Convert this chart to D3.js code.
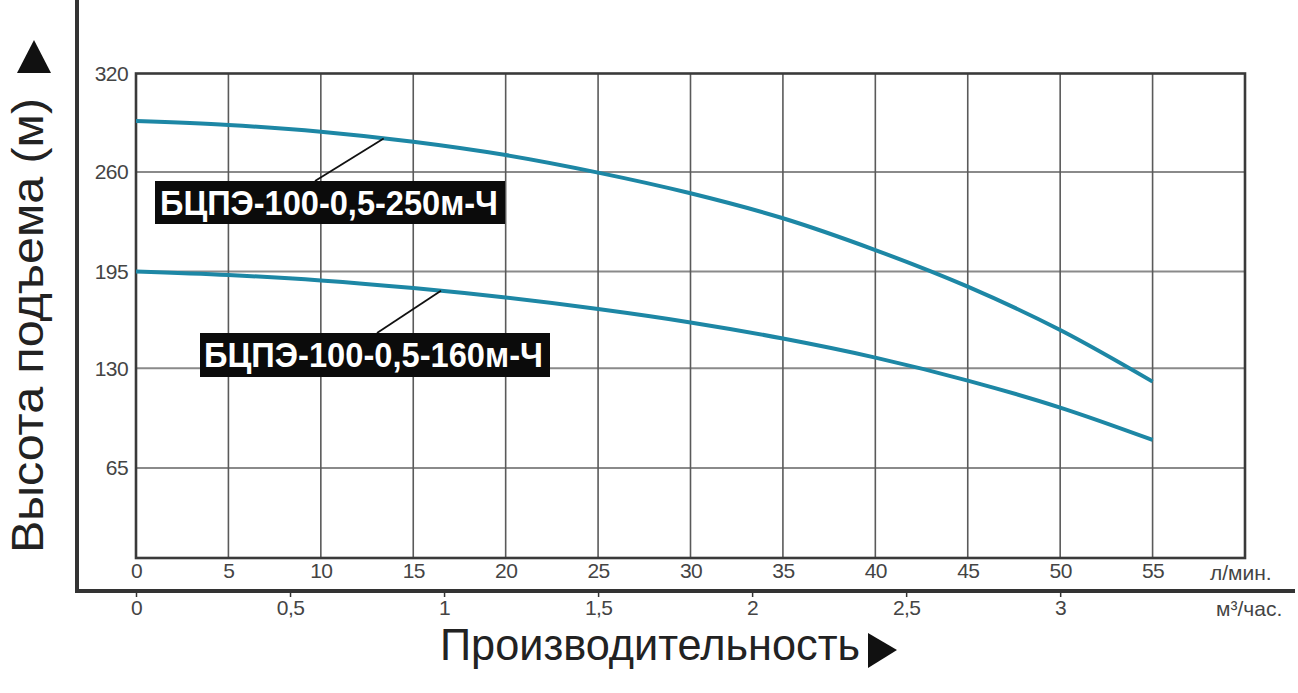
<!DOCTYPE html>
<html>
<head>
<meta charset="utf-8">
<script src="https://cdn.jsdelivr.net/npm/d3@7"></script>
<style>
  body { margin: 0; background: #fff; }
  svg { display: block; font-family: "Liberation Sans", Arial, sans-serif; }
</style>
</head>
<body>
<svg id="chart" width="1298" height="693"></svg>
<script>
// pump curves, head (m) vs flow (l/min)
const flowLpm = [0, 5, 10, 15, 20, 25, 30, 35, 40, 45, 50, 55];
const head250 = [291, 288.6, 284.5, 278.4, 270.3, 259.6, 246.1, 229.8, 209, 184.8, 155.7, 121.3];
const head160 = [195, 192.6, 189, 183.9, 177.5, 169.8, 160.8, 150, 137.2, 122, 104.4, 83.3];

const seriesNames = ['БЦПЭ-100-0,5-250м-Ч', 'БЦПЭ-100-0,5-160м-Ч'];
// point on each curve where the leader line touches it [l/min, m]
const leaderPoints = [[13.4, 280.4], [16.5, 182]];

const headTicks = [0, 65, 130, 195, 260, 320];
const flowTicks = [0, 5, 10, 15, 20, 25, 30, 35, 40, 45, 50, 55];
const flowGrid = [5, 10, 15, 20, 25, 30, 35, 40, 45, 50, 55];
const m3Ticks = [0, 0.5, 1, 1.5, 2, 2.5, 3];

const yTitle = 'Высота подъема (м)';
const xTitle = 'Производительность';
const unitLpm = 'л/мин.';
const unitM3 = 'м³/час.';

const svg = d3.select('#chart');
const plotLeft = 136, plotRight = 1245, plotTop = 73.5, plotBottom = 558;
const axisY = 591, axisX = 77;
const lineColor = '#1d87a5';

const x = d3.scaleLinear().domain([0, 60]).range([plotLeft, plotRight]);
// m3/h axis shares the same pixels: 60 l/min = 3.6 m3/h
const xm = d3.scaleLinear().domain([0, 3.6]).range([plotLeft, plotRight]);
// the printed grid is not quite even, so map each grid value to its row
const y = d3.scaleLinear()
  .domain(headTicks)
  .range([plotBottom, 468, 368.3, 271.5, 172, plotTop]);

// grid
const grid = svg.append('g');
grid.selectAll('.hgrid')
  .data(headTicks.slice(1, -1))
  .enter().append('line')
  .attr('x1', plotLeft).attr('x2', plotRight)
  .attr('y1', d => y(d)).attr('y2', d => y(d))
  .attr('stroke', '#8a8a8a')
  .attr('stroke-width', 2);
grid.selectAll('.vgrid')
  .data(flowGrid)
  .enter().append('line')
  .attr('x1', d => x(d)).attr('x2', d => x(d))
  .attr('y1', plotTop).attr('y2', plotBottom)
  .attr('stroke', '#5a5a5a')
  .attr('stroke-width', 1.6);

// plot frame
svg.append('rect')
  .attr('x', plotLeft).attr('y', plotTop)
  .attr('width', plotRight - plotLeft).attr('height', plotBottom - plotTop)
  .attr('fill', 'none')
  .attr('stroke', '#3a3a3a')
  .attr('stroke-width', 2.6);

const styleTicks = sel => sel.selectAll('text')
  .attr('font-size', 21)
  .attr('fill', '#444')
  .attr('font-family', '"Liberation Sans", Arial, sans-serif')
  .attr('letter-spacing', -0.6);

// y tick labels
const yAxis = svg.append('g')
  .attr('transform', `translate(${plotLeft},0)`)
  .call(d3.axisLeft(y).tickValues(headTicks.slice(1)).tickSize(0).tickPadding(8));
yAxis.select('.domain').remove();
styleTicks(yAxis);

// l/min tick labels under the plot
const xAxis = svg.append('g')
  .attr('transform', `translate(0,${plotBottom})`)
  .call(d3.axisBottom(x).tickValues(flowTicks).tickSize(0).tickPadding(5));
xAxis.select('.domain').remove();
styleTicks(xAxis);

// m3/h axis on the outer baseline
const mAxis = svg.append('g')
  .attr('transform', `translate(0,${axisY})`)
  .call(d3.axisBottom(xm).tickValues(m3Ticks).tickSize(6).tickPadding(3)
    .tickFormat(d => String(d).replace('.', ',')));
mAxis.select('.domain').remove();
mAxis.selectAll('line').attr('stroke', '#333').attr('stroke-width', 1.5);
styleTicks(mAxis);

// outer L axis
svg.append('path')
  .attr('d', `M${axisX},0 V${axisY} H1295`)
  .attr('fill', 'none')
  .attr('stroke', '#333')
  .attr('stroke-width', 4);

// units
svg.append('text')
  .attr('x', 1210).attr('y', 580)
  .attr('font-size', 21).attr('fill', '#444')
  .text(unitLpm);
svg.append('text')
  .attr('x', 1216).attr('y', 616)
  .attr('font-size', 21).attr('fill', '#444')
  .text(unitM3);

// curves
const line = d3.line()
  .x(d => x(d[0]))
  .y(d => y(d[1]))
  .curve(d3.curveMonotoneX);

[head250, head160].forEach(series => {
  svg.append('path')
    .datum(flowLpm.map((q, i) => [q, series[i]]))
    .attr('fill', 'none')
    .attr('stroke', lineColor)
    .attr('stroke-width', 4)
    .attr('d', line);
});

// labels with leader lines
const labelBoxes = [
  { x: 155, y: 181, w: 350, h: 43, tx: 160, tl: 338, lx: 315 },
  { x: 200, y: 333, w: 350, h: 44, tx: 204, tl: 339, lx: 377 }
];
labelBoxes.forEach((b, i) => {
  const p = leaderPoints[i];
  svg.append('line')
    .attr('x1', b.lx).attr('y1', b.y)
    .attr('x2', x(p[0])).attr('y2', y(p[1]))
    .attr('stroke', '#111')
    .attr('stroke-width', 1.8);
  svg.append('rect')
    .attr('x', b.x).attr('y', b.y)
    .attr('width', b.w).attr('height', b.h)
    .attr('fill', '#0b0b0b');
  svg.append('text')
    .attr('x', b.tx).attr('y', b.y + 34)
    .attr('font-size', 35)
    .attr('font-weight', 'bold')
    .attr('fill', '#fff')
    .attr('textLength', b.tl)
    .attr('lengthAdjust', 'spacingAndGlyphs')
    .text(seriesNames[i]);
});

// axis titles and arrows
svg.append('text')
  .attr('transform', 'translate(43,553) rotate(-90)')
  .attr('font-size', 45)
  .attr('fill', '#222')
  .attr('textLength', 455)
  .attr('lengthAdjust', 'spacingAndGlyphs')
  .text(yTitle);
svg.append('path')
  .attr('d', 'M34,40 L51,73 L17,73 Z')
  .attr('fill', '#111');

svg.append('text')
  .attr('x', 440).attr('y', 660)
  .attr('font-size', 44)
  .attr('fill', '#222')
  .attr('textLength', 420)
  .attr('lengthAdjust', 'spacingAndGlyphs')
  .text(xTitle);
svg.append('path')
  .attr('d', 'M868,633 L897,650 L868,668 Z')
  .attr('fill', '#111');
</script>
</body>
</html>
